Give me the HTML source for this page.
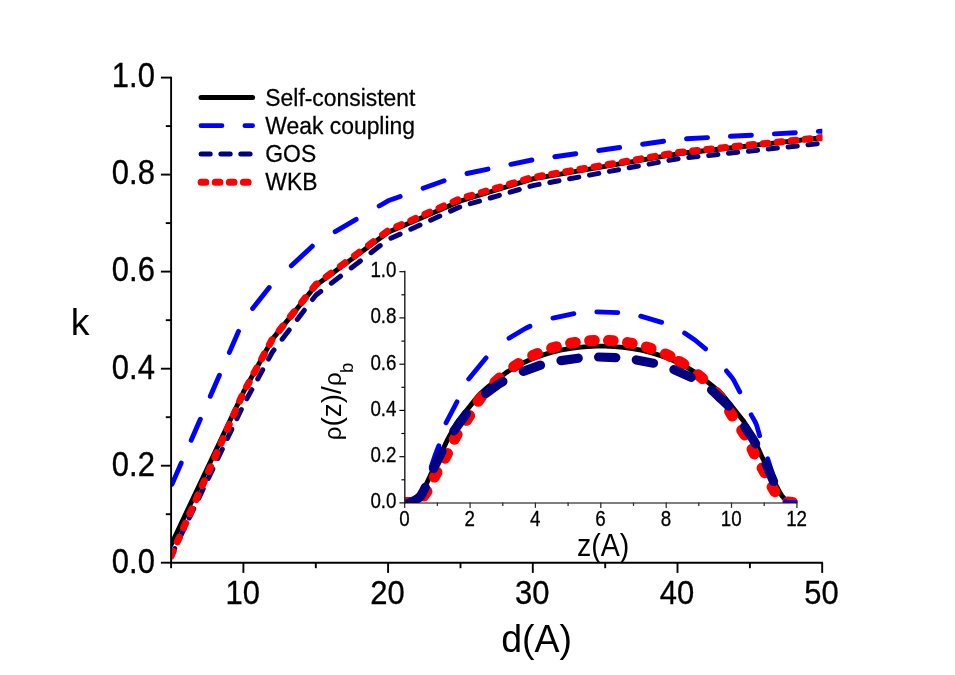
<!DOCTYPE html>
<html lang="en">
<head>
<meta charset="utf-8">
<title>k versus d</title>
<style>
html,body{margin:0;padding:0;background:#ffffff;}
body{width:955px;height:675px;overflow:hidden;font-family:"Liberation Sans",sans-serif;}
svg{display:block;}
</style>
</head>
<body>
<svg width="955" height="675" viewBox="0 0 955 675" style="will-change:transform">
<rect width="955" height="675" fill="#ffffff"/>
<defs><clipPath id="cm"><rect x="170.9" y="0" width="651.4" height="562.7"/></clipPath><clipPath id="ci"><rect x="404.3" y="260" width="393.0" height="242.8"/></clipPath></defs>
<g clip-path="url(#cm)" fill="none" stroke-linejoin="round" stroke-linecap="round">
<path d="M171.1 544.8L243.4 392.2M243.4 392.2L272.4 339.1M272.4 339.1L315.8 285.5M315.8 285.5L388.1 232.3M388.1 232.3L460.5 201.0M460.5 201.0L532.8 178.8M532.8 178.8L677.5 153.8M677.5 153.8L822.2 137.7" stroke="#000000" stroke-width="4.9"/>
<path d="M172.1 484.1L181.2 463.1M191.2 440.2L200.3 419.2M210.3 396.3L219.4 375.3M229.4 352.4L238.5 331.4M252.6 308.5L269.2 287.5M291.3 265.8L312.3 246.2M335.2 231.7L356.2 219.4M379.2 206.0L388.1 200.8L400.2 196.5M423.1 188.2L444.1 180.7M467.0 173.5L488.0 169.1M510.9 164.3L531.9 160.0M554.8 156.7L575.8 153.7M598.7 150.5L619.7 147.5M642.6 144.2L663.6 141.3M686.5 138.8L707.5 137.6M730.4 136.3L751.4 135.2M774.3 133.9L795.3 132.7M818.3 131.4L822.2 131.2" stroke="#0000ff" stroke-width="4.9"/>
<path d="M171.1 556.0L174.7 548.5M179.8 537.8L184.2 528.6M189.3 518.0L193.7 508.8M198.8 498.1L203.2 488.9M208.3 478.3L212.8 469.1M217.9 458.4L222.3 449.2M227.4 438.5L231.8 429.3M236.9 418.7L241.3 409.5M246.8 398.8L251.8 389.6M257.7 379.0L262.7 369.8M268.5 359.1L272.4 352.0L274.0 349.9M282.1 339.2L289.2 330.0M297.3 319.4L304.3 310.2M312.5 299.5L315.8 295.2L320.7 291.4M331.3 283.2L340.5 276.2M351.2 267.9L360.4 260.9M371.0 252.7L380.2 245.6M390.9 238.2L400.1 234.1M410.8 229.2L420.0 225.0M430.6 220.2L439.8 216.0M450.5 211.1L459.7 207.0M470.3 203.7L479.5 201.1M490.2 198.0L499.4 195.3M510.1 192.2L519.3 189.5M529.9 186.4L532.8 185.6L539.1 184.4M549.8 182.5L559.0 180.8M569.6 178.8L578.8 177.1M589.5 175.1L598.7 173.4M609.4 171.4L618.6 169.7M629.2 167.7L638.4 166.0M649.1 164.1L658.3 162.4M668.9 160.4L678.1 158.7M688.8 157.6L698.0 156.6M708.7 155.5L717.9 154.5M728.5 153.3L737.7 152.3M748.4 151.2L757.6 150.2M768.2 149.1L777.4 148.1M788.1 147.0L797.3 146.0M808.0 144.8L817.2 143.8" stroke="#000080" stroke-width="5.0"/>
<path d="M171.1 556.0L173.2 551.3M177.3 541.9L179.4 537.2M183.6 527.8L185.7 523.1M189.8 513.7L191.9 509.0M196.1 499.6L198.1 494.9M202.3 485.6L204.4 480.9M208.5 471.5L210.6 466.8M214.8 457.4L216.8 452.7M221.0 443.3L223.1 438.6M227.2 429.2L229.3 424.5M233.5 415.1L235.6 410.4M239.7 401.0L241.8 396.3M246.5 386.9L249.1 382.2M254.1 372.8L256.7 368.1M261.8 358.7L264.3 354.0M269.4 344.6L271.9 339.9M279.2 330.6L282.9 325.9M290.4 316.5L294.2 311.8M301.7 302.4L305.4 297.7M312.9 288.3L315.8 284.7L316.9 283.9M326.3 276.8L331.0 273.3M340.4 266.3L345.1 262.8M354.5 255.8L359.2 252.3M368.6 245.2L373.3 241.7M382.6 234.7L387.3 231.2M396.7 226.8L401.4 224.7M410.8 220.6L415.5 218.5M424.9 214.3L429.6 212.2M439.0 208.1L443.7 206.0M453.1 201.9L457.8 199.8M467.2 196.6L471.9 195.3M481.3 192.5L486.0 191.1M495.4 188.4L500.1 187.0M509.5 184.2L514.2 182.9M523.5 180.1L528.2 178.7M537.6 176.6L542.3 175.8M551.7 174.2L556.4 173.4M565.8 171.7L570.5 170.9M579.9 169.3L584.6 168.5M594.0 166.9L598.7 166.1M608.1 164.5L612.8 163.7M622.2 162.1L626.9 161.3M636.3 159.7L641.0 158.9M650.4 157.3L655.1 156.4M664.4 154.8L669.1 154.0M678.5 152.5L683.2 152.0M692.6 151.0L697.3 150.5M706.7 149.6L711.4 149.1M720.8 148.1L725.5 147.6M734.9 146.6L739.6 146.1M749.0 145.1L753.7 144.6M763.1 143.7L767.8 143.2M777.2 142.2L781.9 141.7M791.3 140.7L796.0 140.2M805.3 139.3L810.0 138.8M819.4 137.8L822.2 137.5" stroke="#ff0000" stroke-width="7.0"/>
</g>
<g stroke="#000" stroke-width="1.9" fill="none">
<path d="M171.1 76.8 V563.5"/>
<path d="M170.3 562.7 H823.0"/>
<path d="M171.1 562.7 h-10.2"/>
<path d="M171.1 514.2 h-5.3"/>
<path d="M171.1 465.7 h-10.2"/>
<path d="M171.1 417.2 h-5.3"/>
<path d="M171.1 368.7 h-10.2"/>
<path d="M171.1 320.2 h-5.3"/>
<path d="M171.1 271.6 h-10.2"/>
<path d="M171.1 223.1 h-5.3"/>
<path d="M171.1 174.6 h-10.2"/>
<path d="M171.1 126.1 h-5.3"/>
<path d="M171.1 77.6 h-10.2"/>
<path d="M171.1 562.7 v5.5"/>
<path d="M243.4 562.7 v10.2"/>
<path d="M315.8 562.7 v5.5"/>
<path d="M388.1 562.7 v10.2"/>
<path d="M460.5 562.7 v5.5"/>
<path d="M532.8 562.7 v10.2"/>
<path d="M605.2 562.7 v5.5"/>
<path d="M677.5 562.7 v10.2"/>
<path d="M749.9 562.7 v5.5"/>
<path d="M822.2 562.7 v10.2"/>
</g>
<g font-family="'Liberation Sans', sans-serif" fill="#000">
<text transform="translate(154.9 572.5) scale(1 1.110)" font-size="31.00" text-anchor="end" stroke="#000" stroke-width="0.30">0.0</text>
<text transform="translate(154.9 475.5) scale(1 1.110)" font-size="31.00" text-anchor="end" stroke="#000" stroke-width="0.30">0.2</text>
<text transform="translate(154.9 378.5) scale(1 1.110)" font-size="31.00" text-anchor="end" stroke="#000" stroke-width="0.30">0.4</text>
<text transform="translate(154.9 281.4) scale(1 1.110)" font-size="31.00" text-anchor="end" stroke="#000" stroke-width="0.30">0.6</text>
<text transform="translate(154.9 184.4) scale(1 1.110)" font-size="31.00" text-anchor="end" stroke="#000" stroke-width="0.30">0.8</text>
<text transform="translate(154.9 87.4) scale(1 1.110)" font-size="31.00" text-anchor="end" stroke="#000" stroke-width="0.30">1.0</text>
<text transform="translate(242.8 604.0) scale(1 1.100)" font-size="31.00" text-anchor="middle" stroke="#000" stroke-width="0.30">10</text>
<text transform="translate(387.5 604.0) scale(1 1.100)" font-size="31.00" text-anchor="middle" stroke="#000" stroke-width="0.30">20</text>
<text transform="translate(532.2 604.0) scale(1 1.100)" font-size="31.00" text-anchor="middle" stroke="#000" stroke-width="0.30">30</text>
<text transform="translate(676.9 604.0) scale(1 1.100)" font-size="31.00" text-anchor="middle" stroke="#000" stroke-width="0.30">40</text>
<text transform="translate(821.6 604.0) scale(1 1.100)" font-size="31.00" text-anchor="middle" stroke="#000" stroke-width="0.30">50</text>
<text x="70.8" y="335.4" font-size="37.5">k</text>
<text transform="translate(536.6 652.2) scale(1 1.030)" font-size="37.50" text-anchor="middle">d(A)</text>
<text transform="translate(265.3 106.1) scale(1 1.065)" font-size="22.90" text-anchor="start" stroke="#000" stroke-width="0.25">Self-consistent</text>
<text transform="translate(265.3 134.2) scale(1 1.065)" font-size="22.90" text-anchor="start" stroke="#000" stroke-width="0.25">Weak coupling</text>
<text transform="translate(265.3 162.0) scale(1 1.065)" font-size="22.90" text-anchor="start" stroke="#000" stroke-width="0.25">GOS</text>
<text transform="translate(265.3 190.1) scale(1 1.065)" font-size="22.90" text-anchor="start" stroke="#000" stroke-width="0.25">WKB</text>
</g>
<g fill="none" stroke-linecap="round">
<path d="M201.0 97.4H252.6" stroke="#000000" stroke-width="5"/>
<path d="M201.0 125.7H222.0M244.9 125.7H252.6" stroke="#0000ff" stroke-width="4.8"/>
<path d="M201.1 154.1H210.2M220.9 154.1H230.2M240.8 154.1H250.1" stroke="#000080" stroke-width="5"/>
<path d="M201.1 182.3h4.7m9.4 0h4.7m9.4 0h4.7m9.4 0h4.7" stroke="#ff0000" stroke-width="7"/>
</g>
<g clip-path="url(#ci)" fill="none" stroke-linejoin="round" stroke-linecap="round">
<path d="M404.7 502.6L410.7 501.9L413.7 500.9M413.7 500.9L415.7 499.9L417.7 498.1L419.7 495.8L421.4 493.1M421.4 493.1L426.2 484.2M426.2 484.2L430.5 475.2M430.5 475.2L434.9 466.2M434.9 466.2L439.5 457.2M439.5 457.2L443.5 448.2M443.5 448.2L447.7 439.3M447.7 439.3L452.6 430.3M452.6 430.3L456.7 423.1L457.9 421.3M457.9 421.3L465.1 412.3M465.1 412.3L472.2 403.4M472.2 403.4L478.7 395.4L479.6 394.4M479.6 394.4L488.6 386.3M488.6 386.3L497.6 379.2M497.6 379.2L506.5 372.4M506.5 372.4L515.5 366.9M515.5 366.9L524.5 362.2M524.5 362.2L533.5 358.2M533.5 358.2L542.5 355.1M542.5 355.1L551.4 352.4M551.4 352.4L560.4 350.2M560.4 350.2L569.4 348.6M569.4 348.6L578.4 347.4M578.4 347.4L587.3 346.6M587.3 346.6L596.3 346.1M596.3 346.1L605.3 346.1M605.3 346.1L614.3 346.6M614.3 346.6L623.2 347.4M623.2 347.4L632.2 348.6M632.2 348.6L641.2 350.2M641.2 350.2L650.2 352.4M650.2 352.4L659.1 355.1M659.1 355.1L668.1 358.2M668.1 358.2L677.1 362.2M677.1 362.2L686.1 366.9M686.1 366.9L695.1 372.4M695.1 372.4L704.0 379.2M704.0 379.2L713.0 386.3M713.0 386.3L720.9 393.3L722.0 394.4M722.0 394.4L729.4 403.4M729.4 403.4L736.5 412.3M736.5 412.3L743.7 421.3M743.7 421.3L749.0 430.3M749.0 430.3L753.9 439.3M753.9 439.3L758.1 448.2M758.1 448.2L762.1 457.2M762.1 457.2L766.7 466.2M766.7 466.2L771.1 475.2M771.1 475.2L775.4 484.2M775.4 484.2L780.2 493.1M780.2 493.1L781.9 495.8L784.9 499.1L785.9 499.9L787.9 500.9M787.9 500.9L790.9 501.9L795.9 502.6L796.9 502.6" stroke="#000000" stroke-width="4.9"/>
<path d="M404.7 502.6L409.4 502.5M423.4 496.1L426.9 491.4M434.4 477.1L437.0 472.4M445.0 458.2L447.5 453.5M454.4 439.2L457.1 434.5M466.6 420.3L469.6 415.6M478.2 401.3L481.6 396.6M494.8 382.4L499.5 378.1M513.8 366.7L518.5 363.6M532.7 355.5L537.4 353.4M551.7 348.1L556.4 346.7M570.6 343.2L575.3 342.4M589.6 340.7L594.3 340.4M608.5 340.4L613.2 340.7M627.5 342.6L632.2 343.4M646.4 347.0L651.1 348.5M665.4 353.9L670.1 356.2M679.1 361.4L683.8 364.0M698.0 374.8L702.7 378.6M716.4 392.5L720.4 397.2M729.6 411.4L732.3 416.1M741.7 430.3L744.8 435.0M752.1 449.2L754.3 453.9M762.1 468.1L764.8 472.8M772.1 487.0L774.9 491.7M787.8 502.1L792.5 502.5" stroke="#ff0000" stroke-width="11.0"/>
<path d="M407.9 502.6L414.7 502.1L416.7 501.3L417.7 500.7L418.7 499.8L419.7 498.4L421.7 494.6L423.7 489.6M431.2 466.7L434.7 456.4L438.8 445.7M446.0 422.8L457.0 401.8M468.7 378.9L484.7 359.4L486.1 357.9M509.0 338.3L525.7 328.2L530.0 326.2M552.9 318.1L573.9 313.7M596.8 311.9L617.8 312.7M640.7 316.1L661.7 322.4M684.6 333.0L694.9 340.0L705.6 348.9M726.5 370.9L731.9 377.5L733.9 380.5L739.8 391.9M751.2 414.8L754.9 421.4L755.9 423.5L756.9 426.1L759.7 435.8M767.7 458.7L774.4 479.7M785.6 501.6L786.9 502.1L796.9 502.6" stroke="#0000ff" stroke-width="4.8"/>
<path d="M404.7 505.3L416.7 499.3L418.7 497.9L419.7 497.0L420.7 495.8L422.7 492.5L425.3 487.4M410.4 502.4L415.7 499.9L418.7 497.9L419.7 497.0L420.7 495.8L422.7 492.5L424.5 489.1M433.5 468.6L442.0 451.4M453.9 430.9L466.4 413.8M485.7 393.5L497.7 384.7L502.9 381.5M523.3 371.4L540.5 365.2M561.0 360.6L578.2 358.2M598.6 357.0L615.8 357.6M636.3 359.9L653.5 363.2M673.9 369.6L691.1 377.4M711.6 390.0L726.9 404.4L728.5 406.1M744.6 426.6L752.9 439.0L755.6 443.8M766.1 464.2L773.5 481.4" stroke="#000080" stroke-width="9.2"/>
</g>
<g stroke="#2a2a2a" stroke-width="1.25" fill="none">
<path d="M404.8 270.8 V503.5" stroke-width="1.5"/>
<path d="M404.1 503.0 H797.5" stroke="#000" stroke-width="1.15"/>
<path d="M404.7 502.9 h-5.3" stroke="#000" stroke-width="1.15"/>
<path d="M404.7 479.8 h-3.3" stroke="#000" stroke-width="1.15"/>
<path d="M404.7 456.7 h-5.3" stroke="#000" stroke-width="1.15"/>
<path d="M404.7 433.5 h-3.3" stroke="#000" stroke-width="1.15"/>
<path d="M404.7 410.4 h-5.3" stroke="#000" stroke-width="1.15"/>
<path d="M404.7 387.3 h-3.3" stroke="#000" stroke-width="1.15"/>
<path d="M404.7 364.2 h-5.3" stroke="#000" stroke-width="1.15"/>
<path d="M404.7 341.1 h-3.3" stroke="#000" stroke-width="1.15"/>
<path d="M404.7 317.9 h-5.3" stroke="#000" stroke-width="1.15"/>
<path d="M404.7 294.8 h-3.3" stroke="#000" stroke-width="1.15"/>
<path d="M404.7 271.7 h-5.3" stroke="#000" stroke-width="1.15"/>
<path d="M404.7 502.6 v5.3"/>
<path d="M437.4 502.6 v3.3"/>
<path d="M470.1 502.6 v5.3"/>
<path d="M502.8 502.6 v3.3"/>
<path d="M535.4 502.6 v5.3"/>
<path d="M568.1 502.6 v3.3"/>
<path d="M600.8 502.6 v5.3"/>
<path d="M633.5 502.6 v3.3"/>
<path d="M666.2 502.6 v5.3"/>
<path d="M698.8 502.6 v3.3"/>
<path d="M731.5 502.6 v5.3"/>
<path d="M764.2 502.6 v3.3"/>
<path d="M796.9 502.6 v5.3"/>
</g>
<g font-family="'Liberation Sans', sans-serif" fill="#000">
<text transform="translate(396.5 508.3) scale(1 1.130)" font-size="18.75" text-anchor="end" stroke="#000" stroke-width="0.25">0.0</text>
<text transform="translate(396.5 462.1) scale(1 1.130)" font-size="18.75" text-anchor="end" stroke="#000" stroke-width="0.25">0.2</text>
<text transform="translate(396.5 415.8) scale(1 1.130)" font-size="18.75" text-anchor="end" stroke="#000" stroke-width="0.25">0.4</text>
<text transform="translate(396.5 369.6) scale(1 1.130)" font-size="18.75" text-anchor="end" stroke="#000" stroke-width="0.25">0.6</text>
<text transform="translate(396.5 323.3) scale(1 1.130)" font-size="18.75" text-anchor="end" stroke="#000" stroke-width="0.25">0.8</text>
<text transform="translate(396.5 277.1) scale(1 1.130)" font-size="18.75" text-anchor="end" stroke="#000" stroke-width="0.25">1.0</text>
<text transform="translate(404.4 526.4) scale(1 1.130)" font-size="18.75" text-anchor="middle" stroke="#000" stroke-width="0.25">0</text>
<text transform="translate(469.8 526.4) scale(1 1.130)" font-size="18.75" text-anchor="middle" stroke="#000" stroke-width="0.25">2</text>
<text transform="translate(535.1 526.4) scale(1 1.130)" font-size="18.75" text-anchor="middle" stroke="#000" stroke-width="0.25">4</text>
<text transform="translate(600.5 526.4) scale(1 1.130)" font-size="18.75" text-anchor="middle" stroke="#000" stroke-width="0.25">6</text>
<text transform="translate(665.9 526.4) scale(1 1.130)" font-size="18.75" text-anchor="middle" stroke="#000" stroke-width="0.25">8</text>
<text transform="translate(731.2 526.4) scale(1 1.130)" font-size="18.75" text-anchor="middle" stroke="#000" stroke-width="0.25">10</text>
<text transform="translate(796.6 526.4) scale(1 1.130)" font-size="18.75" text-anchor="middle" stroke="#000" stroke-width="0.25">12</text>
<text transform="translate(603.1 555.7) scale(1 1.080)" font-size="28.60" text-anchor="middle">z(A)</text>
<text transform="translate(340.7 440.2) rotate(-90)" font-size="28"><tspan font-size="24">&#961;</tspan>(z)/<tspan font-size="24">&#961;</tspan><tspan font-size="18.5" dy="12.5" dx="-0.6">b</tspan></text>
</g>
</svg>
</body>
</html>
